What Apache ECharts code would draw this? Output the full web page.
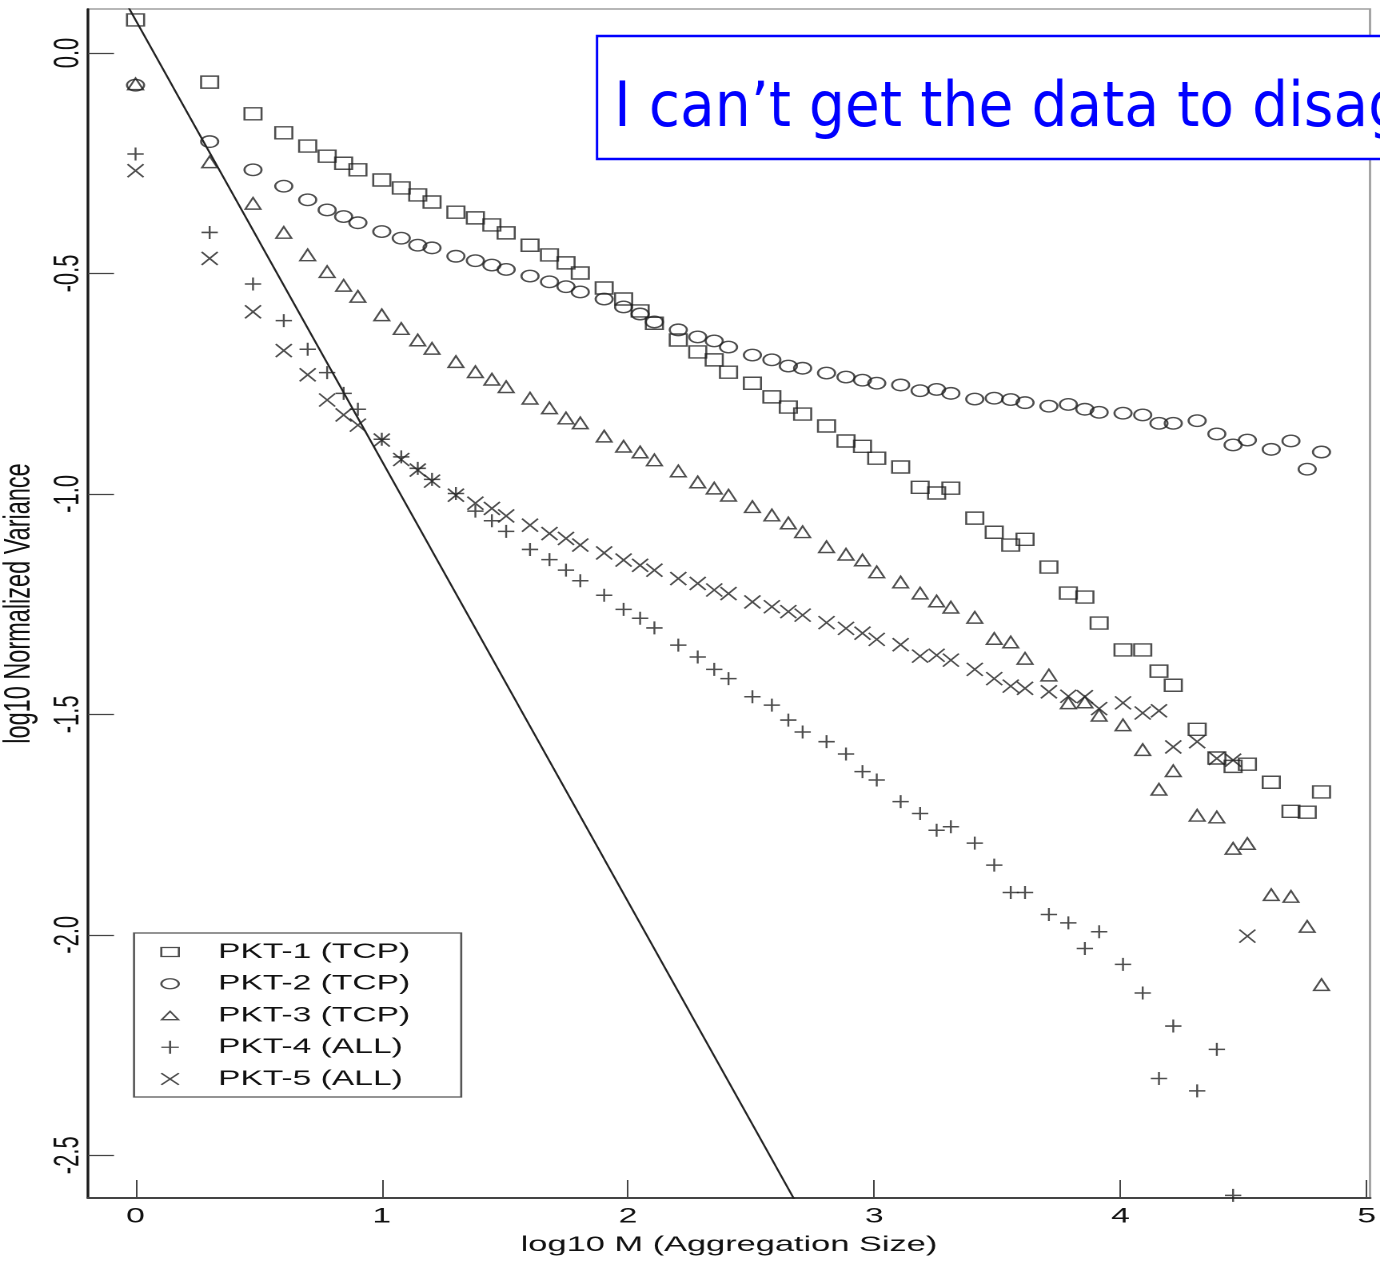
<!DOCTYPE html>
<html>
<head>
<meta charset="utf-8">
<title>log10 Normalized Variance vs log10 M</title>
<script src="https://cdn.jsdelivr.net/npm/echarts@6/dist/echarts.min.js"></script>
<style>
  html, body { margin: 0; padding: 0; background: #fff; width: 1380px; height: 1265px; overflow: hidden; }
  #chart { width: 863px; height: 1265px; transform-origin: 0 0; }
</style>
</head>
<body>
<div id="chart"></div>
<script>
// The plot is laid out on a narrower canvas and widened by CSS,
// which gives the wide glyphs and markers of the original figure.
const STRETCH = 1380 / 863;
const px = v => v / STRETCH;   // page pixels (horizontal) -> chart units

// log10 of the aggregation size M
const aggLog = [0, 0.301, 0.477, 0.602, 0.699, 0.778, 0.845, 0.903,
  1.000, 1.079, 1.146, 1.204, 1.301, 1.380, 1.447, 1.505,
  1.602, 1.681, 1.748, 1.806, 1.903, 1.982, 2.049, 2.107,
  2.204, 2.283, 2.350, 2.408, 2.505, 2.584, 2.651, 2.709,
  2.806, 2.885, 2.952, 3.010, 3.107, 3.186, 3.253, 3.311,
  3.408, 3.487, 3.554, 3.612, 3.709, 3.788, 3.855, 3.913,
  4.010, 4.090, 4.156, 4.214, 4.311, 4.391, 4.457, 4.515,
  4.612, 4.692, 4.758, 4.816];

// log10 normalized variance per trace
const pkt1 = [0.075, -0.066, -0.138, -0.181, -0.211, -0.234, -0.250, -0.265,
  -0.288, -0.306, -0.322, -0.338, -0.361, -0.374, -0.390, -0.408,
  -0.436, -0.458, -0.476, -0.499, -0.533, -0.558, -0.585, -0.613,
  -0.651, -0.678, -0.696, -0.724, -0.749, -0.780, -0.803, -0.819,
  -0.846, -0.880, -0.892, -0.919, -0.939, -0.985, -0.998, -0.987,
  -1.055, -1.087, -1.116, -1.103, -1.166, -1.225, -1.234, -1.293,
  -1.354, -1.354, -1.402, -1.434, -1.534, -1.599, -1.618, -1.613,
  -1.654, -1.720, -1.722, -1.676];
const pkt2 = [-0.073, -0.201, -0.265, -0.302, -0.333, -0.356, -0.371, -0.385,
  -0.405, -0.420, -0.436, -0.442, -0.461, -0.471, -0.481, -0.491,
  -0.506, -0.519, -0.530, -0.542, -0.558, -0.576, -0.592, -0.610,
  -0.628, -0.644, -0.653, -0.667, -0.685, -0.696, -0.710, -0.715,
  -0.726, -0.735, -0.742, -0.749, -0.753, -0.766, -0.763, -0.772,
  -0.785, -0.783, -0.786, -0.793, -0.801, -0.797, -0.808, -0.815,
  -0.817, -0.821, -0.840, -0.840, -0.834, -0.864, -0.889, -0.878,
  -0.899, -0.880, -0.944, -0.905];
const pkt3 = [-0.070, -0.247, -0.341, -0.407, -0.458, -0.496, -0.527, -0.552,
  -0.594, -0.625, -0.651, -0.670, -0.700, -0.723, -0.740, -0.757,
  -0.783, -0.805, -0.828, -0.839, -0.869, -0.892, -0.905, -0.923,
  -0.948, -0.973, -0.987, -1.003, -1.029, -1.048, -1.066, -1.086,
  -1.120, -1.137, -1.150, -1.177, -1.200, -1.225, -1.243, -1.257,
  -1.280, -1.328, -1.336, -1.373, -1.411, -1.474, -1.472, -1.502,
  -1.524, -1.580, -1.670, -1.628, -1.729, -1.733, -1.804, -1.793,
  -1.909, -1.913, -1.981, -2.113];
const pkt4 = [-0.229, -0.407, -0.524, -0.607, -0.672, -0.725, -0.772, -0.808,
  -0.876, -0.916, -0.942, -0.967, -0.999, -1.039, -1.061, -1.085,
  -1.126, -1.149, -1.173, -1.197, -1.230, -1.262, -1.282, -1.304,
  -1.343, -1.370, -1.398, -1.419, -1.460, -1.479, -1.513, -1.540,
  -1.562, -1.590, -1.630, -1.649, -1.698, -1.725, -1.763, -1.755,
  -1.792, -1.842, -1.904, -1.904, -1.954, -1.973, -2.031, -1.993,
  -2.067, -2.132, -2.326, -2.207, -2.354, -2.260, -2.591];
const pkt5 = [-0.267, -0.466, -0.587, -0.675, -0.730, -0.787, -0.821, -0.844,
  -0.878, -0.922, -0.946, -0.971, -1.003, -1.021, -1.033, -1.050,
  -1.071, -1.090, -1.101, -1.116, -1.134, -1.150, -1.162, -1.173,
  -1.192, -1.203, -1.218, -1.226, -1.245, -1.256, -1.267, -1.275,
  -1.292, -1.305, -1.316, -1.330, -1.342, -1.368, -1.366, -1.377,
  -1.398, -1.419, -1.436, -1.441, -1.449, -1.459, -1.460, -1.487,
  -1.474, -1.497, -1.492, -1.574, -1.562, -1.600, -1.604, -2.003];

const seriesNames = ['PKT-1 (TCP)', 'PKT-2 (TCP)', 'PKT-3 (TCP)', 'PKT-4 (ALL)', 'PKT-5 (ALL)'];
const seriesValues = [pkt1, pkt2, pkt3, pkt4, pkt5];

// reference line of slope -1
const refLine = [[-0.3, 0.375], [2.9, -2.825]];

const xTicks = [0, 1, 2, 3, 4, 5];
const yTicks = [-2.5, -2.0, -1.5, -1.0, -0.5, 0.0];
const xRange = [-0.193, 5.013];
const yRange = [-2.597, 0.0998];

const markerSymbols = ['rect', 'circle', 'triangle',
  'path://M0,5L10,5M5,0L5,10',
  'path://M0,0L10,10M10,0L0,10'];
const markerSizes = [[10.7, 12], [10.7, 11.5], [9.6, 11.5], [10.2, 13], [10, 13]];
// legend icons share an 11 x 14 frame (leading moveTo points fix the bounds)
const legendIcons = [
  'path://M0,0M11,14M0,2.5H11V11.5H0Z',
  'path://M0,0M11,14M0,7A5.5,5,0,1,1,11,7A5.5,5,0,1,1,0,7Z',
  'path://M0,0M11,14M0.3,11.2L5.5,2.8L10.7,11.2Z',
  'path://M0,0M11,14M0,7H11M5.5,0.5V13.5',
  'path://M0,0M11,14M0,1.2L11,12.8M11,1.2L0,12.8'
];

const el = document.getElementById('chart');
el.style.transform = 'scaleX(' + STRETCH + ')';
const chart = echarts.init(el, null, { renderer: 'canvas', devicePixelRatio: 2 });

const FONT = 'Liberation Sans, Arial, Helvetica, sans-serif';
const ink = '#222';

const option = {
  animation: false,
  backgroundColor: '#fff',
  grid: {
    left: px(88), right: 863 - px(1370), top: 9, bottom: 67,
    show: true, borderColor: '#a0a0a0', borderWidth: 1.4,
    containLabel: false, outerBoundsMode: 'none'
  },
  legend: {
    orient: 'vertical',
    left: px(134), top: 933,
    padding: [8.5, 31.9, 7.5, 16.4],
    itemWidth: 11, itemHeight: 14, itemGap: 10.75,
    symbolKeepAspect: true,
    backgroundColor: '#fff', borderColor: '#555', borderWidth: 1.3,
    selectedMode: false,
    textStyle: { fontFamily: FONT, fontSize: 21, color: '#111', padding: [0, 0, 0, 19.5] },
    itemStyle: { color: 'rgba(0,0,0,0)', borderColor: ink, borderWidth: 1.3 },
    data: seriesNames.map((n, i) => ({ name: n, icon: legendIcons[i] }))
  },
  xAxis: {
    type: 'value', min: xRange[0], max: xRange[1],
    name: 'log10 M (Aggregation Size)', nameLocation: 'middle', nameGap: 36,
    nameTextStyle: { fontFamily: FONT, fontSize: 21.5, color: '#111' },
    axisLine: { show: true, onZero: false, lineStyle: { color: '#444', width: 2 } },
    axisTick: { show: true, inside: true, length: 18, customValues: xTicks, lineStyle: { color: '#444', width: 1 } },
    axisLabel: { show: true, margin: 8, customValues: xTicks, fontFamily: FONT, fontSize: 21, color: '#111',
      formatter: v => String(v) },
    splitLine: { show: false }
  },
  yAxis: {
    type: 'value', min: yRange[0], max: yRange[1],
    name: 'log10 Normalized Variance', nameLocation: 'middle', nameGap: 30,
    nameTextStyle: { fontFamily: FONT, fontSize: 23.5, color: '#111' },
    axisLine: { show: true, onZero: false, lineStyle: { color: '#1a1a1a', width: 1.6 } },
    axisTick: { show: true, inside: true, length: px(26), customValues: yTicks, lineStyle: { color: '#444', width: 1.3 } },
    axisLabel: { show: true, rotate: 90, margin: 1, customValues: yTicks, fontFamily: FONT, fontSize: 22, color: '#111',
      formatter: v => v.toFixed(1) },
    splitLine: { show: false }
  },
  graphic: [{
    type: 'group', x: 0, y: 0, scaleX: 1 / STRETCH, silent: true, z: 100,
    children: [
      { type: 'rect', shape: { x: 597, y: 36, width: 820, height: 123 },
        style: { fill: '#fff', stroke: '#0000ff', lineWidth: 2.4 } },
      { type: 'text', x: 614, y: 110, scaleX: 0.915,
        style: { text: 'I can\u2019t get the data to disag', fontFamily: 'DejaVu Sans, sans-serif', fontSize: 62,
          fill: '#0000ff', verticalAlign: 'middle', align: 'left' } }
    ]
  }],
  series: [
    { type: 'line', data: refLine, symbol: 'none', silent: true, z: 1, clip: true,
      lineStyle: { color: '#222', width: 1.3 } }
  ].concat(seriesValues.map((vals, i) => ({
    type: 'scatter', name: seriesNames[i], z: 2,
    symbol: markerSymbols[i], symbolSize: markerSizes[i],
    data: vals.map((v, j) => [aggLog[j], v]),
    itemStyle: { color: 'rgba(0,0,0,0)', borderColor: ink, borderWidth: 1.35 },
    emphasis: { disabled: true }
  })))
};

chart.setOption(option);
</script>
</body>
</html>
